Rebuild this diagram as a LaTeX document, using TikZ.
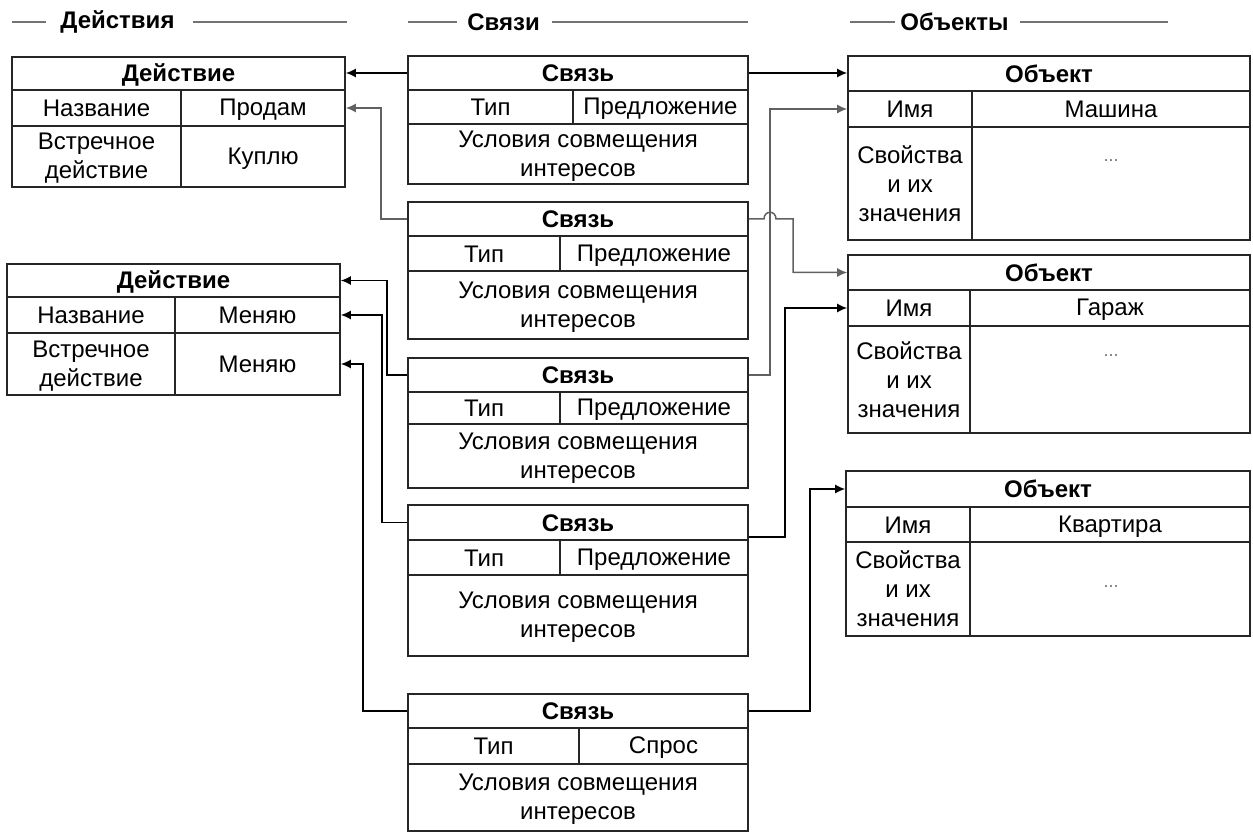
\documentclass[tikz,border=0pt]{standalone}
\usepackage{fontspec}
\setmainfont{Liberation Sans}
\usetikzlibrary{arrows.meta}
\tikzset{
  x=0.5pt, y=-0.5pt,
  cellbox/.style={draw=black!85, line width=0.8pt, inner sep=0pt, align=center,
    font=\fontsize{12}{14.5}\selectfont},
  titlecell/.style={cellbox, font=\fontsize{12}{14.5}\selectfont\bfseries},
  conn/.style={line width=0.75pt, -{Latex[length=5pt,width=4.5pt]}},
  gconn/.style={conn, draw=black!62},
  hdrline/.style={line width=1.4pt, draw=black!55},
  hdr/.style={font=\fontsize{12}{14.5}\selectfont\bfseries, inner sep=0pt},
  dots/.style={font=\fontsize{9}{9}\selectfont, text=black!55, inner sep=0pt}
}
\newcommand\cellTop{\rule{0pt}{10.3pt}}
\newcommand\cellBot{\rule[-1.7pt]{0pt}{1.7pt}}
\newcommand\cell[7][cellbox]{\node[#1, minimum width={(#5-#3)*0.5pt}, minimum height={(#6-#4)*0.5pt}] (#2) at ({(#3+#5)/2},{(#4+#6)/2}) {\cellTop #7\cellBot};}
\begin{document}
\begin{tikzpicture}
\useasboundingbox (0,0) rectangle (1253,834);

% headers
\node[hdr, anchor=west] (hA) at (60,22) {Действия};
\draw[hdrline] (12,22) -- (46,22);
\draw[hdrline] (193,22) -- (347,22);
\node[hdr, anchor=west] (hL) at (467,22) {Связи};
\draw[hdrline] (408,22) -- (457,22);
\draw[hdrline] (552,22) -- (748,22);
\node[hdr, anchor=west] (hO) at (900,22) {Объекты};
\draw[hdrline] (850,22) -- (895,22);
\draw[hdrline] (1020,22) -- (1168,22);

% Action 1
\cell[titlecell]{A1t}{12}{57}{345}{90}{Действие}
\cell{A1a}{12}{90}{181}{126}{Название}
\cell{A1b}{181}{90}{345}{126}{Продам}
\cell{A1c}{12}{126}{181}{187}{Встречное\\действие}
\cell{A1d}{181}{126}{345}{187}{Куплю}

% Action 2
\cell[titlecell]{A2t}{7}{264}{340}{297}{Действие}
\cell{A2a}{7}{297}{175}{333}{Название}
\cell{A2b}{175}{297}{340}{333}{Меняю}
\cell{A2c}{7}{333}{175}{395}{Встречное\\действие}
\cell{A2d}{175}{333}{340}{395}{Меняю}

% Links
\cell[titlecell]{L1t}{408}{56}{748}{90}{Связь}
\cell{L1a}{408}{90}{573}{124}{Тип}
\cell{L1b}{573}{90}{748}{124}{Предложение}
\cell{L1c}{408}{124}{748}{184}{Условия совмещения\\интересов}

\cell[titlecell]{L2t}{408}{202}{748}{236}{Связь}
\cell{L2a}{408}{236}{560}{271}{Тип}
\cell{L2b}{560}{236}{748}{271}{Предложение}
\cell{L2c}{408}{271}{748}{339}{Условия совмещения\\интересов}

\cell[titlecell]{L3t}{408}{358}{748}{392}{Связь}
\cell{L3a}{408}{392}{560}{424}{Тип}
\cell{L3b}{560}{392}{748}{424}{Предложение}
\cell{L3c}{408}{424}{748}{488}{Условия совмещения\\интересов}

\cell[titlecell]{L4t}{408}{505}{748}{540}{Связь}
\cell{L4a}{408}{540}{560}{575}{Тип}
\cell{L4b}{560}{540}{748}{575}{Предложение}
\cell{L4c}{408}{575}{748}{656}{Условия совмещения\\интересов}

\cell[titlecell]{L5t}{408}{694}{748}{728}{Связь}
\cell{L5a}{408}{728}{579}{764}{Тип}
\cell{L5b}{579}{728}{748}{764}{Спрос}
\cell{L5c}{408}{764}{748}{831}{Условия совмещения\\интересов}

% Objects
\cell[titlecell]{O1t}{848}{56}{1250}{91}{Объект}
\cell{O1a}{848}{91}{972}{127}{Имя}
\cell{O1b}{972}{91}{1250}{127}{Машина}
\cell{O1c}{848}{127}{972}{240}{Свойства\\и их\\значения}
\cell{O1d}{972}{127}{1250}{240}{}
\node[dots] (O1dots) at (1111,161) {...};

\cell[titlecell]{O2t}{848}{255}{1250}{290}{Объект}
\cell{O2a}{848}{290}{970}{326}{Имя}
\cell{O2b}{970}{290}{1250}{326}{Гараж}
\cell{O2c}{848}{326}{970}{433}{Свойства\\и их\\значения}
\cell{O2d}{970}{326}{1250}{433}{}
\node[dots] (O2dots) at (1111,356) {...};

\cell[titlecell]{O3t}{846}{471}{1250}{507}{Объект}
\cell{O3a}{846}{507}{970}{542}{Имя}
\cell{O3b}{970}{507}{1250}{542}{Квартира}
\cell{O3c}{846}{542}{970}{636}{Свойства\\и их\\значения}
\cell{O3d}{970}{542}{1250}{636}{}
\node[dots] (O3dots) at (1111,587) {...};

% connectors
\draw[conn] (L1t.west) -- (L1t.west -| A1t.east);
\draw[conn] (L1t.east) -- (L1t.east -| O1t.west);
\draw[gconn] (L2t.west) -- (381,219) |- (A1b.east);
\draw[gconn] (L2t.east) -- (764,219) .. controls (764,210) and (776,210) .. (776,219) -- (793,219) |- (O2t.west);
\draw[gconn] (L3t.east) -- (770,375) |- (O1a.west);
\draw[conn] (L3t.west) -- (387,375) |- (A2t.east);
\draw[conn] (L4t.west) -- (382,522.5) |- (A2b.east);
\draw[conn] ([yshift=-7.25pt]L4t.east) -- (785,537) |- (O2a.west);
\draw[conn] (L5t.west) -- (363,711) |- (A2d.east);
\draw[conn] (L5t.east) -- (810,711) |- (O3t.west);
\end{tikzpicture}
\end{document}
